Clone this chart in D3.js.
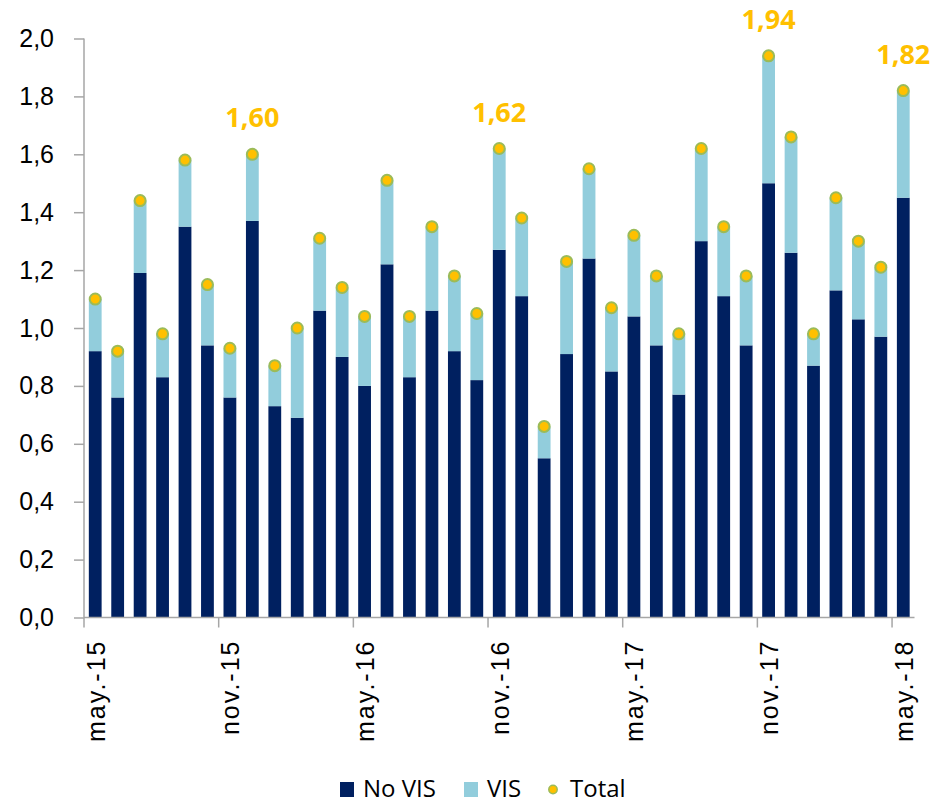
<!DOCTYPE html>
<html>
<head>
<meta charset="utf-8">
<script src="https://cdn.jsdelivr.net/npm/d3@7"></script>
<style>
  body { margin: 0; background: #fff; }
  svg { font-family: "Open Sans", "Noto Sans", sans-serif; }
</style>
</head>
<body>
<svg></svg>
<script>
var months = ["may.-15","jun.-15","jul.-15","ago.-15","sep.-15","oct.-15","nov.-15","dic.-15",
  "ene.-16","feb.-16","mar.-16","abr.-16","may.-16","jun.-16","jul.-16","ago.-16","sep.-16","oct.-16",
  "nov.-16","dic.-16","ene.-17","feb.-17","mar.-17","abr.-17","may.-17","jun.-17","jul.-17","ago.-17",
  "sep.-17","oct.-17","nov.-17","dic.-17","ene.-18","feb.-18","mar.-18","abr.-18","may.-18"];

var noVis = [0.92,0.76,1.19,0.83,1.35,0.94,0.76,1.37,0.73,0.69,1.06,0.90,0.80,1.22,0.83,1.06,0.92,0.82,
  1.27,1.11,0.55,0.91,1.24,0.85,1.04,0.94,0.77,1.30,1.11,0.94,1.50,1.26,0.87,1.13,1.03,0.97,1.45];
var vis = [0.18,0.16,0.25,0.15,0.23,0.21,0.17,0.23,0.14,0.31,0.25,0.24,0.24,0.29,0.21,0.29,0.26,0.23,
  0.35,0.27,0.11,0.32,0.31,0.22,0.28,0.24,0.21,0.32,0.24,0.24,0.44,0.40,0.11,0.32,0.27,0.24,0.37];
var total = [1.10,0.92,1.44,0.98,1.58,1.15,0.93,1.60,0.87,1.00,1.31,1.14,1.04,1.51,1.04,1.35,1.18,1.05,
  1.62,1.38,0.66,1.23,1.55,1.07,1.32,1.18,0.98,1.62,1.35,1.18,1.94,1.66,0.98,1.45,1.30,1.21,1.82];
var labelled = ["dic.-15","nov.-16","nov.-17","may.-18"];
var yTicks = [0,0.2,0.4,0.6,0.8,1.0,1.2,1.4,1.6,1.8,2.0];

var W = 930, H = 804;
var margin = {top: 38.5, right: 15.5, bottom: 186.5, left: 84};
var width = W - margin.left - margin.right,
    height = H - margin.top - margin.bottom;

var locale = d3.formatLocale({decimal: ",", thousands: ".", grouping: [3], currency: ["", "€"]});
var fmt1 = locale.format(".1f"), fmt2 = locale.format(".2f");

var rows = months.map(function(m, i) {
  return {month: m, noVis: noVis[i], vis: vis[i], total: total[i]};
});

var x = d3.scaleBand().domain(months).range([0, width]).paddingInner(0.43).paddingOuter(0.215);
var y = d3.scaleLinear().domain([0, 2]).range([height, 0]);

var svg = d3.select("svg").attr("width", W).attr("height", H),
    g = svg.append("g").attr("transform", "translate(" + margin.left + "," + margin.top + ")");

var stack = d3.stack().keys(["noVis", "vis"])(rows);
var colors = {noVis: "#002060", vis: "#92CDDC"};

g.selectAll(".serie")
    .data(stack)
  .enter().append("g")
    .attr("class", "serie")
    .attr("fill", function(d) { return colors[d.key]; })
  .selectAll("rect")
    .data(function(d) { return d; })
  .enter().append("rect")
    .attr("x", function(d) { return x(d.data.month); })
    .attr("y", function(d) { return y(d[1]); })
    .attr("width", x.bandwidth())
    .attr("height", function(d) { return y(d[0]) - y(d[1]); });

// axes
var axisColor = "#A6A6A6";
var yAxis = g.append("g")
    .call(d3.axisLeft(y).tickValues(yTicks).tickSize(10).tickPadding(20).tickFormat(fmt1));
yAxis.select(".domain").remove();
yAxis.selectAll("line").attr("stroke", axisColor).attr("stroke-width", 1.5);
yAxis.selectAll("text").attr("font-size", 25).attr("fill", "#000");
g.append("line").attr("x1", 0).attr("x2", 0).attr("y1", 0).attr("y2", height)
    .attr("stroke", axisColor).attr("stroke-width", 1.5);

var shown = months.filter(function(m, i) { return i % 6 === 0; });
var xAxis = g.append("g")
    .attr("transform", "translate(0," + height + ")")
    .call(d3.axisBottom(x).tickValues(shown).tickSize(0));
xAxis.select(".domain").remove();
xAxis.selectAll("text")
    .attr("font-size", 25)
    .attr("letter-spacing", 2)
    .attr("fill", "#000")
    .attr("transform", "rotate(-90)")
    .attr("text-anchor", "end")
    .attr("x", -22)
    .attr("y", 0)
    .attr("dy", "0.38em");

var edge = x.step() * x.paddingInner() / 2;
g.append("line").attr("x1", 0).attr("x2", width).attr("y1", height).attr("y2", height)
    .attr("stroke", axisColor).attr("stroke-width", 1.5);
g.selectAll(".xtick")
    .data(shown)
  .enter().append("line")
    .attr("class", "xtick")
    .attr("x1", function(d) { return x(d) - edge; })
    .attr("x2", function(d) { return x(d) - edge; })
    .attr("y1", height).attr("y2", height + 10)
    .attr("stroke", axisColor).attr("stroke-width", 1.5);

// total points
g.selectAll(".dot")
    .data(rows)
  .enter().append("circle")
    .attr("class", "dot")
    .attr("cx", function(d) { return x(d.month) + x.bandwidth() / 2; })
    .attr("cy", function(d) { return y(d.total); })
    .attr("r", 5.5)
    .attr("fill", "#FFC000")
    .attr("stroke", "#9BBB59")
    .attr("stroke-width", 2);

g.selectAll(".lbl")
    .data(rows.filter(function(d) { return labelled.indexOf(d.month) >= 0; }))
  .enter().append("text")
    .attr("class", "lbl")
    .attr("x", function(d) { return x(d.month) + x.bandwidth() / 2; })
    .attr("y", function(d) { return y(d.total) - 27; })
    .attr("text-anchor", "middle")
    .attr("font-size", 27)
    .attr("font-weight", "bold")
    .attr("fill", "#FFC000")
    .text(function(d) { return fmt2(d.total); });

// legend
var legend = svg.append("g").attr("transform", "translate(0,797)");
var items = [
  {name: "No VIS", type: "rect", color: colors.noVis, x: 340},
  {name: "VIS", type: "rect", color: colors.vis, x: 464},
  {name: "Total", type: "dot", color: "#FFC000", x: 548}
];
items.forEach(function(it) {
  if (it.type === "rect") {
    legend.append("rect").attr("x", it.x).attr("y", -15).attr("width", 14).attr("height", 15)
      .attr("fill", it.color);
  } else {
    legend.append("circle").attr("cx", it.x + 5).attr("cy", -7.5).attr("r", 4.2)
      .attr("fill", it.color).attr("stroke", "#9BBB59").attr("stroke-width", 1.5);
  }
  legend.append("text").attr("x", it.x + (it.type === "rect" ? 23 : 22)).attr("y", 0)
    .attr("font-size", 24).attr("fill", "#000").text(it.name);
});
</script>
</body>
</html>
